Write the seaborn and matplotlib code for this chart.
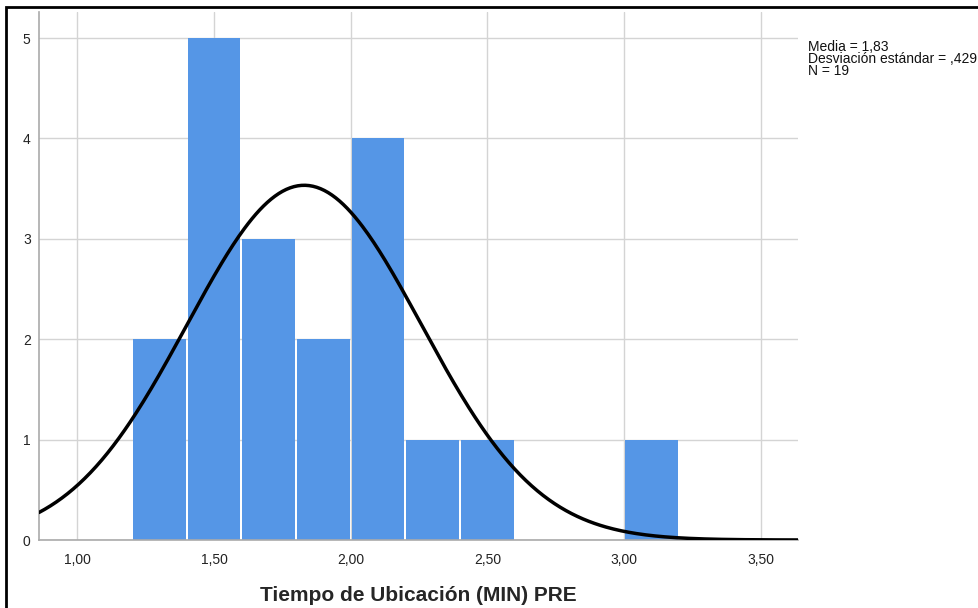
import numpy as np
import pandas as pd
import seaborn as sns
import matplotlib
matplotlib.use("Agg")
import matplotlib.pyplot as plt
from matplotlib.patches import Rectangle

# ---- data ----
bin_centers = [1.3, 1.5, 1.7, 1.9, 2.1, 2.3, 2.5, 3.1]
counts = [2, 5, 3, 2, 4, 1, 1, 1]
mean_val = 1.83
sd_val = 0.429
n_obs = 19
bin_width = 0.2
x_ticks = [1.0, 1.5, 2.0, 2.5, 3.0, 3.5]
x_tick_labels = ["1,00", "1,50", "2,00", "2,50", "3,00", "3,50"]
y_ticks = [0, 1, 2, 3, 4, 5]
stats_lines = ["Media = 1,83", "Desviación estándar = ,429", "N = 19"]
x_label = "Tiempo de Ubicación (MIN) PRE"

sns.set_style("white")
plt.rcParams['font.family'] = ['Liberation Sans', 'DejaVu Sans']

W, H = 979, 608
fig = plt.figure(figsize=(W / 100, H / 100), dpi=100)
ax = fig.add_axes([39 / W, (H - 540) / H, (798 - 39) / W, (540 - 12) / H])

xlim = (0.86, 3.636)
ylim = (0, 5.26)

df = pd.DataFrame({"x": bin_centers, "w": counts})
sns.histplot(data=df, x="x", weights="w", binwidth=bin_width, binrange=(1.2, 3.2),
             shrink=0.965, color="#5596E6", edgecolor="none", alpha=1.0, ax=ax, zorder=2)

xs = np.linspace(xlim[0], xlim[1], 400)
ys = n_obs * bin_width * np.exp(-0.5 * ((xs - mean_val) / sd_val) ** 2) / (sd_val * np.sqrt(2 * np.pi))
sns.lineplot(x=xs, y=ys, color="black", linewidth=2.5, ax=ax, zorder=3)

ax.set_xlim(*xlim)
ax.set_ylim(*ylim)
ax.set_xticks(x_ticks)
ax.set_xticklabels(x_tick_labels)
ax.set_yticks(y_ticks)
ax.set_axisbelow(True)
ax.grid(True, color="#d4d4d4", linewidth=1.0)
ax.tick_params(axis="both", length=0, labelsize=10, colors="#222222")
ax.tick_params(axis="x", pad=9)
ax.tick_params(axis="y", pad=6)
for s in ["top", "right"]:
    ax.spines[s].set_visible(False)
for s in ["left", "bottom"]:
    ax.spines[s].set_color("#aaaaaa")
    ax.spines[s].set_linewidth(1.2)
ax.set_ylabel("")
ax.set_xlabel(x_label, fontsize=15, fontweight="bold", labelpad=14)

fig.text(808 / W, 1 - 40 / H, "\n".join(stats_lines), fontsize=10, ha="left", va="top",
         linespacing=0.8, color="#111111")

fig.patches.append(Rectangle((6 / W, -0.1), 1.2, 1 - 7 / H + 0.1, transform=fig.transFigure,
                             fill=False, edgecolor="black", linewidth=2, clip_on=False))

fig.savefig("out.png", dpi=100)
